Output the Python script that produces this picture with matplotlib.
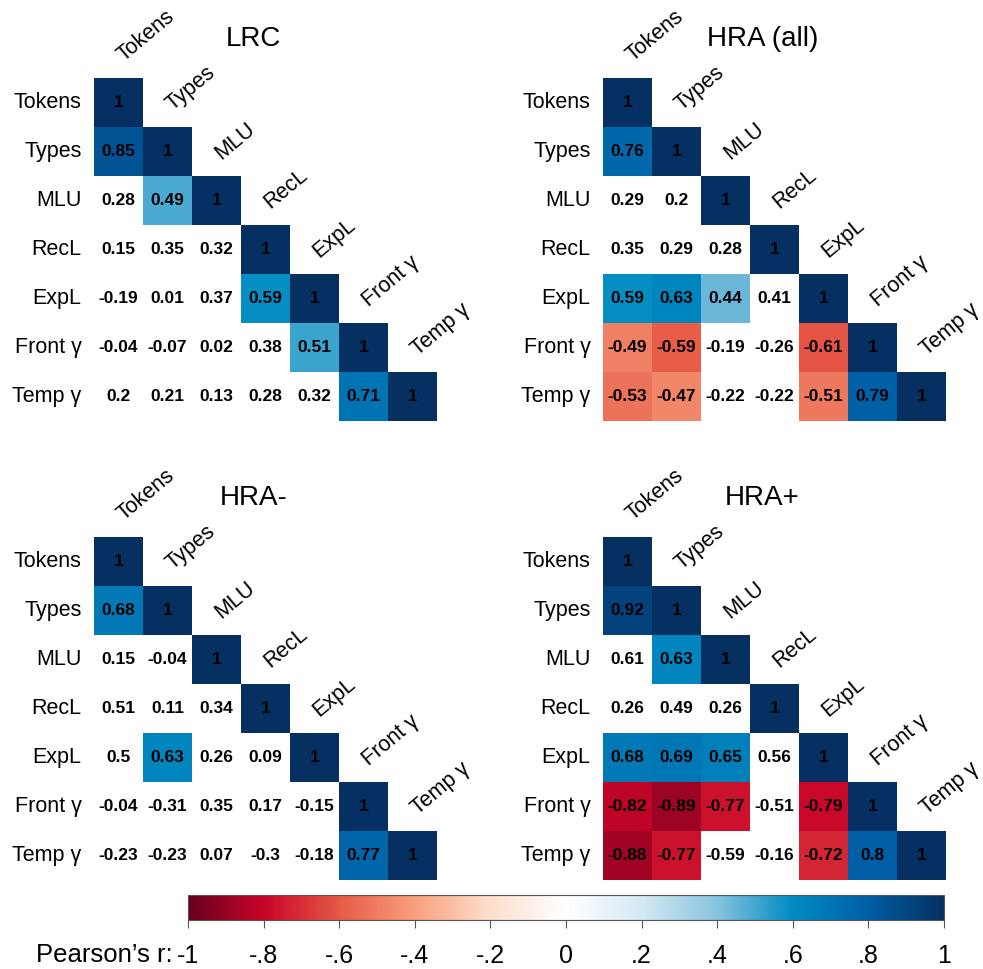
import numpy as np
import matplotlib
matplotlib.use('Agg')
import matplotlib.pyplot as plt
from matplotlib.colors import LinearSegmentedColormap

plt.rcParams['font.family'] = ['Liberation Sans', 'DejaVu Sans']

# variable names (rows and columns of each matrix)
names = ['Tokens', 'Types', 'MLU', 'RecL', 'ExpL', 'Front γ', 'Temp γ']
titles = ['LRC', 'HRA (all)', 'HRA-', 'HRA+']

# lower triangle, row by row (diagonal = 1 added later)
lrc_r = [[],
         [0.85],
         [0.28, 0.49],
         [0.15, 0.35, 0.32],
         [-0.19, 0.01, 0.37, 0.59],
         [-0.04, -0.07, 0.02, 0.38, 0.51],
         [0.2, 0.21, 0.13, 0.28, 0.32, 0.71]]
hra_all_r = [[],
             [0.76],
             [0.29, 0.2],
             [0.35, 0.29, 0.28],
             [0.59, 0.63, 0.44, 0.41],
             [-0.49, -0.59, -0.19, -0.26, -0.61],
             [-0.53, -0.47, -0.22, -0.22, -0.51, 0.79]]
hra_minus_r = [[],
               [0.68],
               [0.15, -0.04],
               [0.51, 0.11, 0.34],
               [0.5, 0.63, 0.26, 0.09],
               [-0.04, -0.31, 0.35, 0.17, -0.15],
               [-0.23, -0.23, 0.07, -0.3, -0.18, 0.77]]
hra_plus_r = [[],
              [0.92],
              [0.61, 0.63],
              [0.26, 0.49, 0.26],
              [0.68, 0.69, 0.65, 0.56],
              [-0.82, -0.89, -0.77, -0.51, -0.79],
              [-0.88, -0.77, -0.59, -0.16, -0.72, 0.8]]

# 1 = cell is coloured (significant), 0 = left white
lrc_sig = [[], [1], [0, 1], [0, 0, 0], [0, 0, 0, 1], [0, 0, 0, 0, 1], [0, 0, 0, 0, 0, 1]]
hra_all_sig = [[], [1], [0, 0], [0, 0, 0], [1, 1, 1, 0], [1, 1, 0, 0, 1], [1, 1, 0, 0, 1, 1]]
hra_minus_sig = [[], [1], [0, 0], [0, 0, 0], [0, 1, 0, 0], [0, 0, 0, 0, 0], [0, 0, 0, 0, 0, 1]]
hra_plus_sig = [[], [1], [0, 1], [0, 0, 0], [1, 1, 1, 0], [1, 1, 1, 0, 1], [1, 1, 0, 0, 1, 1]]

cb_ticks = [-1, -0.8, -0.6, -0.4, -0.2, 0, 0.2, 0.4, 0.6, 0.8, 1]
cb_ticklabels = ['-1', '-.8', '-.6', '-.4', '-.2', '0', '.2', '.4', '.6', '.8', '1']

cmap_colors = ['#67001f', '#c80528', '#e65a46', '#f8a07d', '#fddecd', '#ffffff',
               '#d4e8f2', '#87c3de', '#008cc3', '#005fa5', '#053061']
cmap = LinearSegmentedColormap.from_list('rb', cmap_colors)

panels = [(lrc_r, lrc_sig), (hra_all_r, hra_all_sig),
          (hra_minus_r, hra_minus_sig), (hra_plus_r, hra_plus_sig)]
boxes = [[0.0956, 0.5655, 0.349, 0.354], [0.6134, 0.5655, 0.349, 0.354],
         [0.0956, 0.0918, 0.349, 0.354], [0.6134, 0.0918, 0.349, 0.354]]

fig = plt.figure(figsize=(9.83, 9.69), dpi=100)
n = len(names)

for k, (r, sig) in enumerate(panels):
    ax = fig.add_axes(boxes[k])
    mat = np.full((n, n), np.nan)
    for i in range(n):
        for j in range(i):
            if sig[i][j]:
                mat[i, j] = r[i][j]
        mat[i, i] = 1.0
    ax.pcolormesh(np.arange(n + 1) - 0.5, np.arange(n + 1) - 0.5,
                  np.ma.masked_invalid(mat), cmap=cmap, vmin=-1, vmax=1)
    for i in range(n):
        for j in range(i):
            ax.text(j, i, f'{r[i][j]:g}', ha='center', va='center',
                    fontsize=12.5, fontweight='bold')
        ax.text(i, i, '1', ha='center', va='center', fontsize=12.5, fontweight='bold')
        ax.text(-0.75, i, names[i], ha='right', va='center', fontsize=15.5)
        ax.text(i + 0.1, i - 0.82, names[i], ha='left', va='baseline',
                rotation=40, rotation_mode='anchor', fontsize=15.5)
    ax.text(2.75, -1.3, titles[k], ha='center', va='center', fontsize=20)
    ax.set_xlim(-0.5, n - 0.5)
    ax.set_ylim(n - 0.5, -0.5)
    ax.axis('off')

cax = fig.add_axes([0.1913, 0.0506, 0.769, 0.0258])
sm = plt.cm.ScalarMappable(cmap=cmap, norm=plt.Normalize(-1, 1))
cb = fig.colorbar(sm, cax=cax, orientation='horizontal')
cb.set_ticks(cb_ticks)
cb.set_ticklabels(cb_ticklabels)
cb.outline.set_edgecolor('#555555')
cb.outline.set_linewidth(0.8)
cax.tick_params(length=6, width=0.8, color='#555555', pad=11, labelsize=18)
fig.text(0.176, 1 - 962 / 969, "Pearson’s r:", ha='right', va='baseline', fontsize=18.5)

fig.savefig('out.png', dpi=100)
